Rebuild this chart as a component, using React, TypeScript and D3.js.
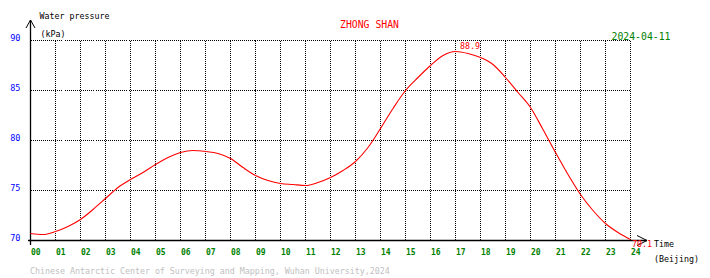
import React from "react";
import * as d3 from "d3";

const hours: number[] = [
  0, 0.5, 1, 1.5, 2, 2.5, 3, 3.5, 4, 4.5, 5, 5.5, 6, 6.5, 7, 7.5, 8, 8.5, 9, 9.5,
  10, 10.5, 11, 11.5, 12, 12.5, 13, 13.5, 14, 14.5, 15, 15.5, 16, 16.5, 17, 17.5,
  18, 18.5, 19, 19.5, 20, 20.5, 21, 21.5, 22, 22.5, 23, 23.5, 24,
];
const pressure: number[] = [
  70.7, 70.6, 70.9, 71.4, 72.1, 73.1, 74.2, 75.3, 76.1, 76.8, 77.6, 78.3, 78.8, 79.0,
  78.9, 78.7, 78.2, 77.3, 76.5, 76.0, 75.7, 75.6, 75.5, 75.8, 76.3, 77.0, 77.9, 79.3,
  81.2, 83.2, 85.0, 86.3, 87.5, 88.5, 88.9, 88.7, 88.3, 87.6, 86.3, 84.8, 83.3, 81.1,
  78.8, 76.6, 74.6, 73.0, 71.7, 70.8, 70.1,
];
const xTicks: number[] = d3.range(0, 25);
const xTickLabels: string[] = xTicks.map((h) => (h < 10 ? "0" + h : String(h)));
const yTicks: number[] = [70, 75, 80, 85, 90];

const title = "ZHONG SHAN";
const dateLabel = "2024-04-11";
const yTitle = "Water pressure";
const yUnit = "(kPa)";
const xTitle = "Time";
const xUnit = "(Beijing)";
const footer = "Chinese Antarctic Center of Surveying and Mapping, Wuhan University,2024";
const maxLabel = "88.9";
const lastLabel = "70.1";

const MONO = "'DejaVu Sans Mono', 'Liberation Mono', monospace";

export default function App() {
  const x = d3.scaleLinear().domain([0, 24]).range([30.5, 630.5]);
  const y = d3.scaleLinear().domain([70, 90]).range([240.5, 40.5]);
  const pts: [number, number][] = hours.map((h, i) => [h, pressure[i]]);
  const line = d3
    .line<[number, number]>()
    .x((d) => x(d[0]))
    .y((d) => y(d[1]))
    .curve(d3.curveMonotoneX);
  const maxIdx = d3.maxIndex(pressure);
  const lastIdx = pressure.length - 1;

  return (
    <svg
      width={710}
      height={278}
      style={{ position: "absolute", left: 0, top: 0, background: "#fff" }}
      fontFamily={MONO}
    >
      <rect x={0} y={0} width={710} height={278} fill="#fff" />
      {xTicks.slice(1).map((h) => (
        <line
          key={"vg" + h}
          x1={x(h)}
          x2={x(h)}
          y1={y(90)}
          y2={y(70)}
          stroke="#000"
          strokeWidth={1}
          strokeDasharray="1,1"
          shapeRendering="crispEdges"
        />
      ))}
      {yTicks.slice(1).map((v) => (
        <line
          key={"hg" + v}
          x1={x(0)}
          x2={x(24)}
          y1={y(v)}
          y2={y(v)}
          stroke="#000"
          strokeWidth={1}
          strokeDasharray="1,1"
          shapeRendering="crispEdges"
        />
      ))}
      <line x1={x(0)} x2={x(0)} y1={20} y2={245} stroke="#000" strokeWidth={1.3} />
      <polyline points="26,28 30.5,20 35,28" fill="none" stroke="#000" strokeWidth={1} />
      <line x1={28} x2={647} y1={y(70)} y2={y(70)} stroke="#000" strokeWidth={1.3} />
      <polyline points="637,235.5 647,240.5 637,245.5" fill="none" stroke="#000" strokeWidth={1} />

      <path d={line(pts) || ""} fill="none" stroke="#ff0000" strokeWidth={1.1} />

      {yTicks.map((v) => (
        <text key={"yl" + v} x={20.5} y={y(v)} fontSize={8.5} fill="#0000ff" textAnchor="end">
          {v}
        </text>
      ))}
      {xTicks.map((h, i) => (
        <text
          key={"xl" + h}
          x={x(h) + 0.5}
          y={255}
          fontSize={8}
          fontWeight="bold"
          fill="#008000"
        >
          {xTickLabels[i]}
        </text>
      ))}

      <text x={39.5} y={18.5} fontSize={8.3} fill="#000">{yTitle}</text>
      <text x={40.5} y={36.5} fontSize={8.3} fill="#000">{yUnit}</text>
      <text x={340} y={28.3} fontSize={9.8} fill="#ff0000">{title}</text>
      <text x={611.5} y={40} fontSize={9.8} fill="#008000">{dateLabel}</text>
      <text x={654} y={246.5} fontSize={8.3} fill="#000">{xTitle}</text>
      <text x={654} y={261.5} fontSize={8.3} fill="#000">{xUnit}</text>
      <text x={30} y={273.5} fontSize={8.3} fill="#c0c0c0">{footer}</text>

      <text x={x(hours[maxIdx]) + 4.5} y={y(pressure[maxIdx]) - 3} fontSize={8.3} fill="#ff0000">
        {maxLabel}
      </text>
      <text x={x(hours[lastIdx]) + 1.5} y={y(pressure[lastIdx]) + 7} fontSize={8.3} fill="#ff0000">
        {lastLabel}
      </text>
    </svg>
  );
}
